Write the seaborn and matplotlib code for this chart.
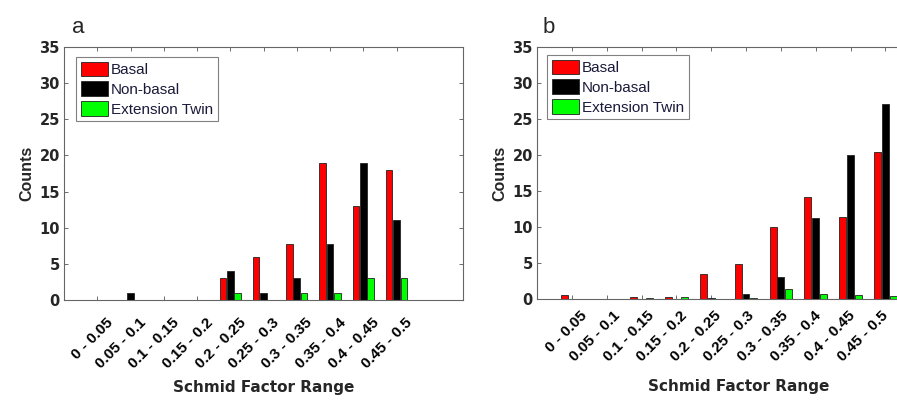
import matplotlib
matplotlib.use("Agg")
import matplotlib.pyplot as plt
import pandas as pd
import seaborn as sns
from matplotlib.transforms import ScaledTranslation, blended_transform_factory

# Schmid factor bins and slip/twin systems
ranges = ['0 - 0.05', '0.05 - 0.1', '0.1 - 0.15', '0.15 - 0.2', '0.2 - 0.25',
          '0.25 - 0.3', '0.3 - 0.35', '0.35 - 0.4', '0.4 - 0.45', '0.45 - 0.5']
series_names = ['Basal', 'Non-basal', 'Extension Twin']
series_colors = ['#ff0000', '#000000', '#00ff00']

# Panel a counts
a_basal = [0, 0, 0, 0, 3, 6, 7.7, 19, 13, 18]
a_nonbasal = [0, 1, 0, 0, 4, 1, 3, 7.8, 19, 11]
a_twin = [0, 0, 0, 0, 1, 0, 1, 1, 3, 3]

# Panel b counts
b_basal = [0.5, 0, 0.3, 0.3, 3.5, 4.9, 10.0, 14.1, 11.4, 20.4]
b_nonbasal = [0, 0, 0, 0, 0.2, 0.65, 3.1, 11.3, 20.0, 27.1]
b_twin = [0, 0, 0.15, 0.25, 0, 0.2, 1.4, 0.7, 0.5, 0.35]

y_ticks = [0, 5, 10, 15, 20, 25, 30, 35]
panel_labels = ['a', 'b']

WIDE = ['DejaVu Sans']
NARROW = ['Liberation Sans', 'DejaVu Sans']


def long_frame(basal, nonbasal, twin):
    rows = []
    for name, vals in zip(series_names, [basal, nonbasal, twin]):
        for r, v in zip(ranges, vals):
            rows.append({'range': r, 'count': v, 'system': name})
    return pd.DataFrame(rows)


sns.set_theme(style="white")
plt.rcParams['font.family'] = NARROW

fig = plt.figure(figsize=(8.97, 4.01), dpi=100)
W, H = 897.0, 401.0
ax_a = fig.add_axes([64 / W, (H - 300) / H, 399 / W, 253 / H])
ax_b = fig.add_axes([537 / W, (H - 299) / H, 418 / W, 252 / H])

frames = [long_frame(a_basal, a_nonbasal, a_twin),
          long_frame(b_basal, b_nonbasal, b_twin)]
legend_anchor = [(12 / 399, 243 / 253), (10 / 418, 244 / 252)]
xlabel_x = [0.5, (739 - 537) / 418]
# slanted label offsets in pixels: (start dx, dx step per label, dy)
label_offsets = [(8.5, 0.0, -15.5), (8.0, -1.33, -9.5)]

for ax, df, anchor, lx, (dx0, ddx, dy) in zip(
        [ax_a, ax_b], frames, legend_anchor, xlabel_x, label_offsets):
    sns.barplot(data=df, x='range', y='count', hue='system',
                hue_order=series_names, order=ranges,
                palette=series_colors, width=0.667, gap=0.1,
                edgecolor='#222222', linewidth=0.6, errorbar=None,
                saturation=1.0, ax=ax)
    ax.set_xlim(-1, 11)
    ax.set_ylim(0, 35)
    ax.set_yticks(y_ticks)
    ax.set_yticklabels([str(t) for t in y_ticks], fontsize=10.5,
                       fontweight='bold', family=WIDE)
    ax.set_xticks(range(len(ranges)))
    ax.set_xticklabels([])

    # slanted category labels hanging below the ticks
    base = blended_transform_factory(ax.transData, ax.transAxes)
    for i, r in enumerate(ranges):
        shift = ScaledTranslation((dx0 + ddx * i) / 100.0, dy / 100.0,
                                  fig.dpi_scale_trans)
        ax.text(i, 0, r, transform=base + shift, rotation=45,
                rotation_mode='anchor', ha='right', va='top',
                fontsize=11, fontweight='bold', color='black')

    ax.tick_params(axis='x', direction='in', length=3, width=0.6,
                   color='#555555', top=True, bottom=True, pad=0)
    ax.tick_params(axis='y', direction='in', length=3, width=0.6,
                   color='#555555', left=True, right=True, pad=3)
    for sp in ax.spines.values():
        sp.set_color('#666666')
        sp.set_linewidth(0.8)
    ax.set_xlabel('Schmid Factor Range', fontsize=11, fontweight='bold',
                  family=WIDE)
    ax.xaxis.set_label_coords(lx, -0.316)
    ax.set_ylabel('Counts', fontsize=11.5, fontweight='bold')
    ax.yaxis.set_label_coords(-0.075 * 399 / (ax.get_position().width * W), 0.5)

    handles, labels = ax.get_legend_handles_labels()
    leg = ax.legend(handles, labels, loc='upper left', bbox_to_anchor=anchor,
                    borderaxespad=0, fontsize=11, frameon=True,
                    fancybox=False, edgecolor='#808080', framealpha=1,
                    handlelength=1.8, handleheight=1.05, handletextpad=0.2,
                    labelspacing=0.3, borderpad=0.3)
    leg.get_frame().set_linewidth(0.8)
    for txt in leg.get_texts():
        txt.set_color('#1a1a3a')

ax_b.spines['right'].set_visible(False)
ax_b.tick_params(axis='y', right=False)

fig.text(72 / W, (H - 33) / H, panel_labels[0], fontsize=16, va='baseline')
fig.text(543 / W, (H - 33) / H, panel_labels[1], fontsize=16, va='baseline')

fig.savefig('out.png', dpi=100)
